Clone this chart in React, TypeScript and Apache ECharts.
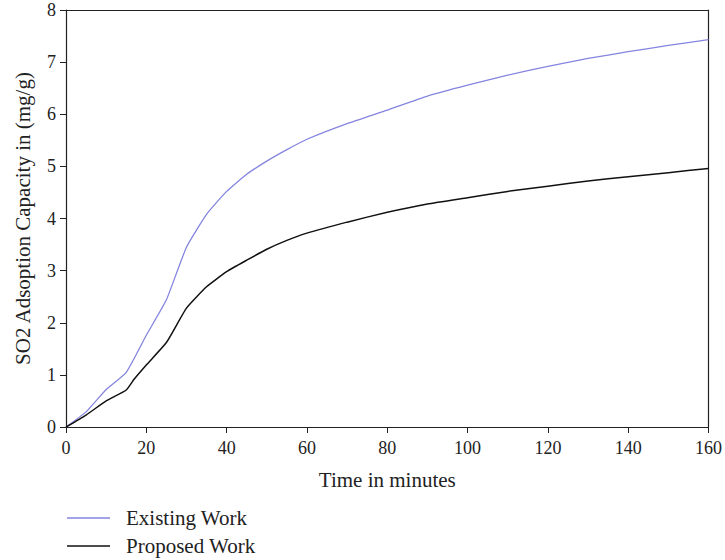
import React, { useEffect, useRef } from "react";
import * as echarts from "echarts";

const existingX = [0, 5, 10, 15, 20, 25, 30, 35, 40, 45, 50, 55, 60, 70, 80, 90, 100, 110, 120, 130, 140, 150, 160];
const existingY = [0, 0.29, 0.72, 1.05, 1.76, 2.44, 3.45, 4.08, 4.52, 4.85, 5.1, 5.32, 5.52, 5.82, 6.08, 6.35, 6.56, 6.75, 6.92, 7.07, 7.2, 7.32, 7.43];
const proposedX = [0, 5, 10, 15, 17, 20, 25, 30, 35, 40, 45, 50, 55, 60, 70, 80, 90, 100, 110, 120, 130, 140, 150, 160];
const proposedY = [0, 0.23, 0.5, 0.71, 0.92, 1.19, 1.62, 2.28, 2.69, 2.98, 3.2, 3.41, 3.58, 3.72, 3.93, 4.12, 4.28, 4.4, 4.52, 4.62, 4.72, 4.8, 4.88, 4.96];
const seriesNames = ["Existing Work", "Proposed Work"];
const xAxisName = "Time in minutes";
const yAxisName = "SO2 Adsoption Capacity in (mg/g)";

const FONT = "Liberation Serif";

export default function App() {
  const ref = useRef<HTMLDivElement>(null);
  useEffect(() => {
    if (!ref.current) return;
    const chart = echarts.init(ref.current, undefined, { renderer: "svg" });
    const tickText = { color: "#222", fontFamily: FONT, fontSize: 18 };
    const nameText = { color: "#222", fontFamily: FONT, fontSize: 21 };
    chart.setOption({
      animation: false,
      backgroundColor: "#fff",
      grid: { left: 66, right: 15, top: 10, bottom: 133 },
      legend: {
        orient: "vertical",
        left: 67,
        top: 507,
        padding: 0,
        icon: "rect",
        itemWidth: 43,
        itemHeight: 1.4,
        itemGap: 6,
        textStyle: { ...nameText, lineHeight: 22, padding: [0, 0, 0, 11] },
        data: seriesNames,
      },
      xAxis: [
        {
          type: "value",
          min: 0,
          max: 160,
          interval: 20,
          name: xAxisName,
          nameLocation: "middle",
          nameGap: 42,
          nameTextStyle: nameText,
          axisLine: { show: true, lineStyle: { color: "#222", width: 1.2 } },
          axisTick: { show: true, length: 6, lineStyle: { color: "#222" } },
          axisLabel: { ...tickText, margin: 12 },
          splitLine: { show: false },
        },
        {
          type: "value",
          position: "top",
          min: 0,
          max: 160,
          axisLine: { show: true, onZero: false, lineStyle: { color: "#222", width: 1.2 } },
          axisTick: { show: false },
          axisLabel: { show: false },
          splitLine: { show: false },
        },
      ],
      yAxis: [
        {
          type: "value",
          min: 0,
          max: 8,
          interval: 1,
          name: yAxisName,
          nameLocation: "middle",
          nameGap: 33,
          nameTextStyle: nameText,
          axisLine: { show: true, lineStyle: { color: "#222", width: 1.2 } },
          axisTick: { show: true, length: 6, lineStyle: { color: "#222" } },
          axisLabel: { ...tickText, margin: 10 },
          splitLine: { show: false },
        },
        {
          type: "value",
          position: "right",
          min: 0,
          max: 8,
          axisLine: { show: true, onZero: false, lineStyle: { color: "#222", width: 1.2 } },
          axisTick: { show: false },
          axisLabel: { show: false },
          splitLine: { show: false },
        },
      ],
      series: [
        {
          name: seriesNames[0],
          type: "line",
          symbol: "none",
          smooth: 0.15,
          data: existingX.map((x, i) => [x, existingY[i]]),
          lineStyle: { color: "#8585e0", width: 1.3 },
          itemStyle: { color: "#8585e0" },
        },
        {
          name: seriesNames[1],
          type: "line",
          symbol: "none",
          smooth: 0.15,
          data: proposedX.map((x, i) => [x, proposedY[i]]),
          lineStyle: { color: "#111", width: 1.5 },
          itemStyle: { color: "#111" },
        },
      ],
    });
    return () => chart.dispose();
  }, []);
  return (
    <div
      ref={ref}
      style={{ position: "fixed", left: 0, top: 0, width: 725, height: 560, background: "#fff" }}
    />
  );
}
